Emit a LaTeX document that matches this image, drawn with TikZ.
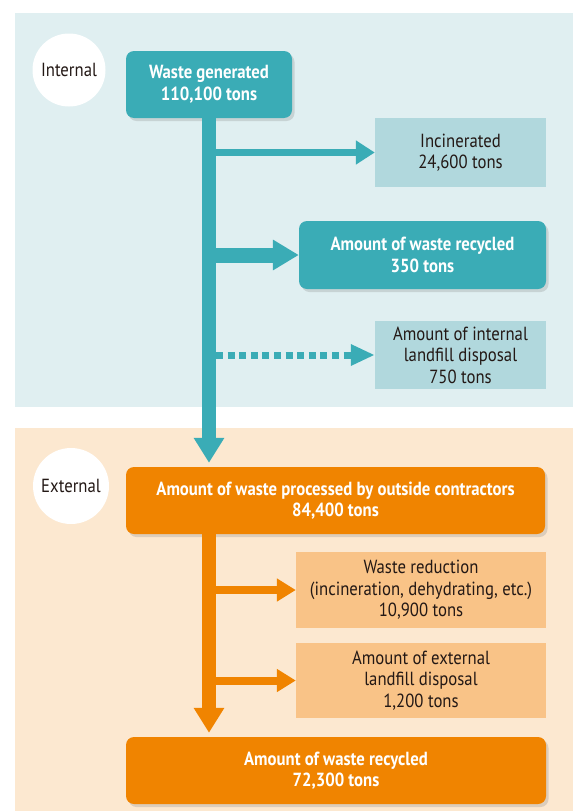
\documentclass[tikz,border=0pt]{standalone}
\usepackage{fontspec}
\setmainfont[FakeStretch=0.88]{PT Sans}
\usetikzlibrary{arrows.meta}
\usetikzlibrary{shadows}

\definecolor{tealdark}{HTML}{3AACB6}
\definecolor{tealpale}{HTML}{E0EFF1}
\definecolor{tealbox}{HTML}{B1D8DD}
\definecolor{orangedark}{HTML}{F08400}
\definecolor{peach}{HTML}{FCE8D0}
\definecolor{orangebox}{HTML}{F9C387}
\definecolor{ink}{HTML}{231815}

\begin{document}
\begin{tikzpicture}[x=1pt,y=-1pt,
    font=\fontsize{19}{21.5}\selectfont,
    tag/.style={circle,fill=white,inner sep=0pt,minimum size=#1,text=ink},
    bigbox/.style={rounded corners=8pt,fill=#1,text=white,align=center,inner sep=0pt,
      font=\fontsize{19}{21.5}\selectfont\bfseries,
      drop shadow={shadow xshift=2.5pt,shadow yshift=-3pt,opacity=0.25}},
    lightbox/.style={fill=#1,text=ink,align=center,inner sep=0pt},
    spine/.style={line width=14pt,-{Triangle[length=25pt,width=29pt]},shorten >=4pt}]
        \useasboundingbox (0,0) rectangle (573,811);
        \fill[white] (0,0) rectangle (573,811);
        \fill[tealpale] (15,13) rectangle (573,407);
        \fill[peach] (15,428) rectangle (573,811);

        \node[tag=73pt] (intl) at (69,70) {Internal};
        \node[tag=76pt] (extl) at (71,486) {External};

        \node[bigbox=tealdark,minimum width=166pt,minimum height=67pt] (gen) at (209,84.5)
          {Waste generated\\110,100 tons};
        \node[lightbox=tealbox,minimum width=171pt,minimum height=69pt] (inc) at (460.5,152.5)
          {Incinerated\\24,600 tons};
        \node[bigbox=tealdark,minimum width=247pt,minimum height=68pt] (rec) at (422.5,255)
          {Amount of waste recycled\\350 tons};
        \node[lightbox=tealbox,minimum width=171pt,minimum height=68pt] (ilf) at (460.5,355)
          {Amount of internal\\landfill disposal\\750 tons};

        \node[bigbox=orangedark,minimum width=419pt,minimum height=67pt] (ctr) at (335.5,500.5)
          {Amount of waste processed by outside contractors\\84,400 tons};
        \node[lightbox=orangebox,minimum width=250pt,minimum height=76pt] (red) at (421,590)
          {Waste reduction\\(incineration, dehydrating, etc.)\\10,900 tons};
        \node[lightbox=orangebox,minimum width=250pt,minimum height=75pt] (elf) at (421,680.5)
          {Amount of external\\landfill disposal\\1,200 tons};
        \node[bigbox=orangedark,minimum width=420pt,minimum height=67pt] (fin) at (336,770.5)
          {Amount of waste recycled\\72,300 tons};

        \draw[spine,tealdark] (gen.south) -- (ctr.north -| gen.south);
        \draw[tealdark,line width=7pt,-{Triangle[length=19pt,width=23pt]}] (gen.south |- inc.west) -- (inc.west);
        \draw[tealdark,line width=15pt,-{Triangle[length=26pt,width=29pt]}] (gen.south |- rec.west) -- (rec.west);
        \draw[tealdark,line width=7pt,dash pattern=on 7pt off 4.6pt,-{Triangle[length=24pt,width=20pt]}]
          ([xshift=7pt]gen.south |- ilf.west) -- (ilf.west);

        \draw[spine,orangedark] (ctr.south -| gen.south) -- (fin.north -| gen.south);
        \foreach \b in {red,elf} {
          \draw[orangedark,line width=8pt,-{Triangle[length=19pt,width=22pt]}] (gen.south |- \b.west) -- (\b.west);
        }
      \end{tikzpicture}
\end{document}
